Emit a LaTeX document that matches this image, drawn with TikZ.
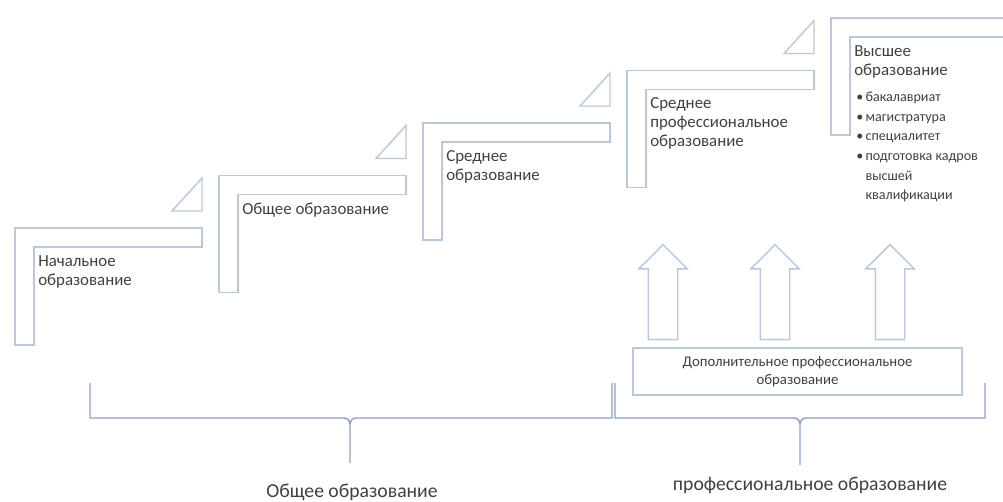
\documentclass[tikz,border=0pt]{standalone}
\usepackage{fontspec}
\setmainfont{Carlito}
\usetikzlibrary{shapes.arrows}
\definecolor{steplinecol}{RGB}{183,200,226}
\definecolor{bracecol}{RGB}{140,158,208}
\definecolor{txtgray}{RGB}{64,64,64}
\tikzset{
  stepline/.style={draw=steplinecol,line width=1pt,fill=white},
  steptext/.style={anchor=north west,inner sep=0pt,align=left,text=txtgray,
    font=\fontsize{12}{13.5}\selectfont},
  listtext/.style={anchor=north west,inner sep=0pt,align=left,text=txtgray,
    font=\fontsize{10}{13.9}\selectfont},
  upblock/.style={single arrow,draw=steplinecol,line width=1pt,fill=white,
    shape border rotate=90,inner sep=0.35cm,minimum height=2.375cm,
    minimum width=1.2cm,single arrow head extend=0.24cm},
  extrabox/.style={draw=steplinecol,line width=1pt,fill=white,align=center,
    text=txtgray,minimum width=8.225cm,minimum height=1.175cm,inner sep=0pt,
    font=\fontsize{10.5}{12.8}\selectfont},
  bracket/.style={draw=bracecol,line width=1pt},
  bracetext/.style={text=txtgray,inner sep=0pt,font=\fontsize{14}{16}\selectfont}
}
\begin{document}
\begin{tikzpicture}[x=0.025cm,y=-0.025cm]
\clip (0,0) rectangle (1003,501);
%steps
\foreach \i in {0,...,4}{
  \pgfmathsetmacro{\sx}{15+204*\i}
  \pgfmathsetmacro{\sy}{228-52.5*\i}
  \draw[stepline] (\sx,\sy) -- ++(187,0) -- ++(0,19) -- ++(-168,0)
      -- ++(0,98) -- ++(-19,0) -- cycle;
}
\foreach \i in {0,...,3}{
  \pgfmathsetmacro{\sx}{15+204*\i}
  \pgfmathsetmacro{\sy}{228-52.5*\i}
  \draw[stepline] (\sx+157,\sy-17) -- ++(30,0) -- ++(0,-33) -- cycle;
}
%step labels
\node[steptext] (primary) at (38,255) {Начальное\\образование};
\node[steptext] (general) at (242,202.5) {Общее образование};
\node[steptext] (secondary) at (446,150) {Среднее\\образование};
\node[steptext] (vocational) at (650,97.5) {Среднее\\профессиональное\\образование};
\node[steptext] (higher) at (854,45) {Высшее\\образование};
\node[listtext] (levels) at (856,92) {\textbullet\,бакалавриат\\
  \textbullet\,магистратура\\
  \textbullet\,специалитет\\
  \textbullet\,подготовка кадров\\
  \phantom{\textbullet\,}высшей\\
  \phantom{\textbullet\,}квалификации};
%additional education
\node[upblock] (up1) at (663,299.5) {};
\node[upblock] (up2) at (775,299.5) {};
\node[upblock] (up3) at (890,299.5) {};
\node[extrabox] (extra) at (797.5,371.5) {Дополнительное профессиональное\\образование};
%braces
\draw[bracket] (90,383) |- (344,418) to[out=0,in=90] (350,424) -- (350,463);
\draw[bracket] (612,383) |- (356,418) to[out=180,in=90] (350,424);
\draw[bracket] (615,383) |- (794,418) to[out=0,in=90] (800,424) -- (800,465);
\draw[bracket] (985,383) |- (806,418) to[out=180,in=90] (800,424);
%labels
\node[bracetext] (schoolsum) at (352,492) {Общее образование};
\node[bracetext] (profsum) at (810,485) {профессиональное образование};
\end{tikzpicture}
\end{document}
